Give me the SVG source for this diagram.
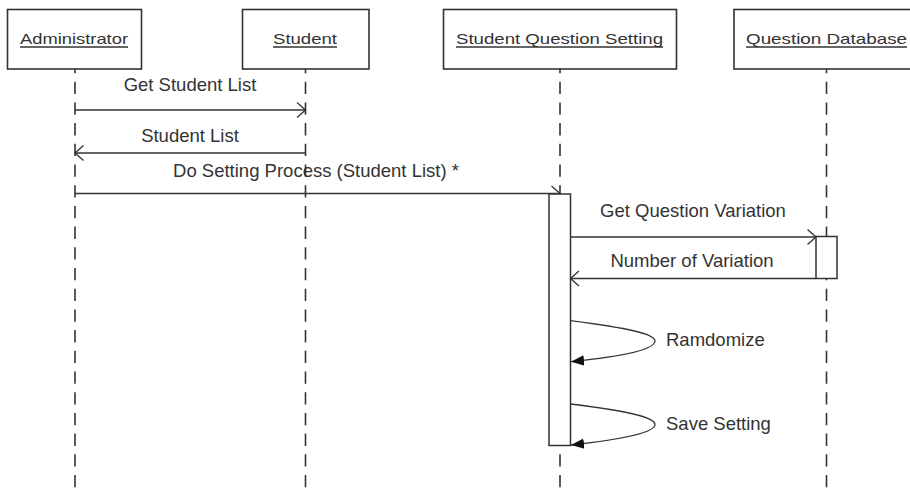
<svg xmlns="http://www.w3.org/2000/svg" width="910" height="488" viewBox="0 0 910 488">
  <style>
    .box { fill: #ffffff; stroke: #333333; stroke-width: 1.6; }
    .name { font-family: "Liberation Sans", Arial, sans-serif; font-size: 15px; fill: #333333; text-anchor: middle; }
    .uline { stroke: #333333; stroke-width: 1.3; }
    .life { stroke: #333333; stroke-width: 1.6; stroke-dasharray: 12.3 8.4; stroke-dashoffset: 8; fill: none; }
    .msg { stroke: #333333; stroke-width: 1.3; fill: none; }
    .lbl { font-family: "Liberation Sans", Arial, sans-serif; font-size: 18.5px; fill: #333333; }
    .act { fill: #ffffff; stroke: #333333; stroke-width: 1.5; }
  </style>
  <defs>
    <marker id="open" markerWidth="12" markerHeight="18" refX="10" refY="9" orient="auto" markerUnits="userSpaceOnUse">
      <path d="M1.5,1.5 L10,9 L1.5,16.5" fill="none" stroke="#333333" stroke-width="1.3"/>
    </marker>
    <marker id="filled" markerWidth="14" markerHeight="12" refX="13" refY="6" orient="auto" markerUnits="userSpaceOnUse">
      <path d="M0,0.8 L13,6 L0,11.2 Z" fill="#111111"/>
    </marker>
  </defs>
  <rect width="910" height="488" fill="#ffffff"/>

  <!-- lifelines -->
  <g id="lifelines">
    <line class="life" x1="75" y1="69" x2="75" y2="488"/>
    <line class="life" x1="305.5" y1="69" x2="305.5" y2="488"/>
    <line class="life" x1="560" y1="69" x2="560" y2="488"/>
    <line class="life" x1="826.5" y1="69" x2="826.5" y2="488"/>
  </g>

  <g id="administrator">
    <rect class="box" x="7.5" y="9.5" width="134" height="59.5"/>
    <text class="name" x="74" y="43.5" textLength="108" lengthAdjust="spacingAndGlyphs">Administrator</text>
    <line class="uline" x1="20" y1="47" x2="128" y2="47"/>
  </g>
  <g id="student">
    <rect class="box" x="242.5" y="9.5" width="126.5" height="59.5"/>
    <text class="name" x="305" y="43.5" textLength="64" lengthAdjust="spacingAndGlyphs">Student</text>
    <line class="uline" x1="273" y1="47" x2="337" y2="47"/>
  </g>
  <g id="student-question-setting">
    <rect class="box" x="443.5" y="9.5" width="233" height="59.5"/>
    <text class="name" x="559.5" y="43.5" textLength="207" lengthAdjust="spacingAndGlyphs">Student Question Setting</text>
    <line class="uline" x1="456" y1="47" x2="663" y2="47"/>
  </g>
  <g id="question-database">
    <rect class="box" x="734" y="9.5" width="186" height="59.5"/>
    <text class="name" x="826.5" y="43.5" textLength="161" lengthAdjust="spacingAndGlyphs">Question Database</text>
    <line class="uline" x1="746" y1="47" x2="907" y2="47"/>
  </g>

  <!-- messages -->
  <g id="connectors">
    <line class="msg" x1="75" y1="110" x2="305.5" y2="110" marker-end="url(#open)"/>
    <text class="lbl" x="190" y="91" text-anchor="middle">Get Student List</text>

    <line class="msg" x1="305.5" y1="153" x2="75" y2="153" marker-end="url(#open)"/>
    <text class="lbl" x="190" y="141.5" text-anchor="middle">Student List</text>

    <line class="msg" x1="75" y1="193.5" x2="560" y2="193.5" marker-end="url(#open)"/>
    <text class="lbl" x="316" y="176.5" text-anchor="middle">Do Setting Process (Student List) *</text>
  </g>

  <!-- activation bars -->
  <g id="activation-setting">
    <rect class="act" x="549" y="194" width="21.5" height="251.5"/>
  </g>
  <g id="activation-database">
    <rect class="act" x="816" y="236.5" width="21" height="42"/>
  </g>

  <g id="connectors-2">
    <line class="msg" x1="570.5" y1="237" x2="816" y2="237" marker-end="url(#open)"/>
    <text class="lbl" x="693" y="216.5" text-anchor="middle">Get Question Variation</text>

    <line class="msg" x1="816" y1="278.5" x2="570.5" y2="278.5" marker-end="url(#open)"/>
    <text class="lbl" x="692" y="267" text-anchor="middle">Number of Variation</text>

    <path class="msg" d="M570.5,320.7 C628,328 655,334 655,341 C655,349 626,356 571,361.7" marker-end="url(#filled)"/>
    <text class="lbl" x="666" y="346">Ramdomize</text>

    <path class="msg" d="M570.5,404 C628,411 655,417 655,424.5 C655,432 626,439 571,445" marker-end="url(#filled)"/>
    <text class="lbl" x="666" y="430">Save Setting</text>
  </g>
</svg>
